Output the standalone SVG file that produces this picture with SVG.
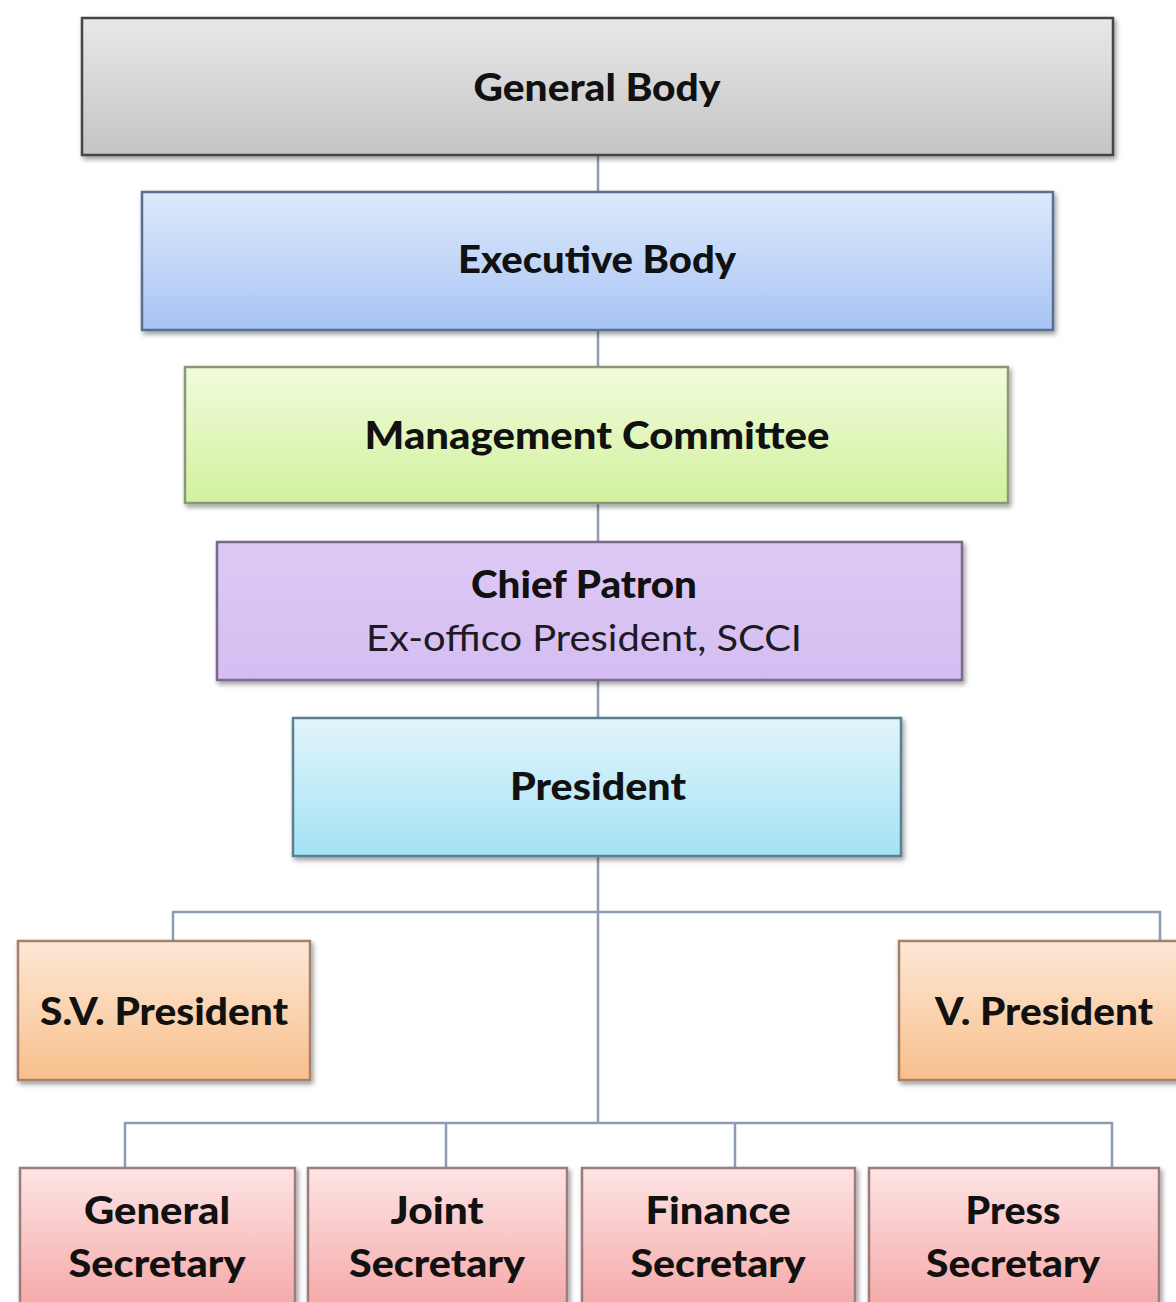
<svg xmlns="http://www.w3.org/2000/svg" width="1176" height="1302" viewBox="0 0 1176 1302">
<style>
.t{font-family:Lato,"Liberation Sans",sans-serif;font-weight:900;font-size:38px;fill:#111;text-anchor:middle}
.r{font-family:Lato,"Liberation Sans",sans-serif;font-weight:normal;font-size:36px;fill:#1e1a24;text-anchor:middle}
.c{fill:none;stroke:#8d9bb5;stroke-width:2.5}
.box{stroke-width:2.5;filter:url(#sh)}
</style>
<defs>
<filter id="sh" x="-5%" y="-10%" width="110%" height="125%">
<feDropShadow dx="2" dy="3" stdDeviation="2.5" flood-color="#000" flood-opacity="0.4"/>
</filter>
<linearGradient id="gGray" x1="0" y1="0" x2="0" y2="1"><stop offset="0" stop-color="#e8e8e8"/><stop offset="1" stop-color="#c4c4c4"/></linearGradient>
<linearGradient id="gBlue" x1="0" y1="0" x2="0" y2="1"><stop offset="0" stop-color="#dde9fb"/><stop offset="1" stop-color="#a8c4f4"/></linearGradient>
<linearGradient id="gGreen" x1="0" y1="0" x2="0" y2="1"><stop offset="0" stop-color="#f1fbdc"/><stop offset="1" stop-color="#d2f19d"/></linearGradient>
<linearGradient id="gPurple" x1="0" y1="0" x2="0" y2="1"><stop offset="0" stop-color="#ddc9f5"/><stop offset="1" stop-color="#d5bdf1"/></linearGradient>
<linearGradient id="gCyan" x1="0" y1="0" x2="0" y2="1"><stop offset="0" stop-color="#e2f5fc"/><stop offset="1" stop-color="#a3e2f4"/></linearGradient>
<linearGradient id="gOrange" x1="0" y1="0" x2="0" y2="1"><stop offset="0" stop-color="#fde8d6"/><stop offset="1" stop-color="#f8bf8c"/></linearGradient>
<linearGradient id="gPink" x1="0" y1="0" x2="0" y2="1"><stop offset="0" stop-color="#fde4e4"/><stop offset="1" stop-color="#f5a4a4"/></linearGradient>
</defs>
<rect width="1176" height="1302" fill="#fff"/>
<g id="connectors">
<line class="c" x1="598" y1="155" x2="598" y2="1123"/>
<polyline class="c" points="173,941 173,912 1160,912 1160,941"/>
<polyline class="c" points="125,1168 125,1123 1112,1123 1112,1168"/>
<line class="c" x1="446" y1="1123" x2="446" y2="1168"/>
<line class="c" x1="735" y1="1123" x2="735" y2="1168"/>
</g>
<g id="general-body">
<rect class="box" x="82" y="18" width="1031" height="137" fill="url(#gGray)" stroke="#444"/>
<text class="t" x="597" y="101" textLength="247" lengthAdjust="spacingAndGlyphs">General Body</text>
</g>
<g id="executive-body">
<rect class="box" x="142" y="192" width="911" height="138" fill="url(#gBlue)" stroke="#5a6e92"/>
<text class="t" x="597" y="273" textLength="278" lengthAdjust="spacingAndGlyphs">Executive Body</text>
</g>
<g id="management-committee">
<rect class="box" x="185" y="367" width="823" height="136" fill="url(#gGreen)" stroke="#8a9878"/>
<text class="t" x="597" y="449" textLength="465" lengthAdjust="spacingAndGlyphs">Management Committee</text>
</g>
<g id="chief-patron">
<rect class="box" x="217" y="542" width="745" height="138" fill="url(#gPurple)" stroke="#7a698b"/>
<text class="t" x="584" y="598" textLength="226" lengthAdjust="spacingAndGlyphs">Chief Patron</text>
<text class="r" x="584" y="651" textLength="436" lengthAdjust="spacingAndGlyphs">Ex-offico President, SCCI</text>
</g>
<g id="president">
<rect class="box" x="293" y="718" width="608" height="138" fill="url(#gCyan)" stroke="#5a7f8f"/>
<text class="t" x="598" y="800" textLength="176" lengthAdjust="spacingAndGlyphs">President</text>
</g>
<g id="sv-president">
<rect class="box" x="18" y="941" width="292" height="139" fill="url(#gOrange)" stroke="#a5806a"/>
<text class="t" x="164" y="1025" textLength="248" lengthAdjust="spacingAndGlyphs">S.V. President</text>
</g>
<g id="v-president">
<rect class="box" x="899" y="941" width="290" height="139" fill="url(#gOrange)" stroke="#a5806a"/>
<text class="t" x="1044" y="1025" textLength="218" lengthAdjust="spacingAndGlyphs">V. President</text>
</g>
<g id="general-secretary">
<rect class="box" x="20" y="1168" width="275" height="150" fill="url(#gPink)" stroke="#9e7b7b"/>
<text class="t" x="157" y="1224" textLength="146" lengthAdjust="spacingAndGlyphs">General</text>
<text class="t" x="157" y="1277" textLength="177" lengthAdjust="spacingAndGlyphs">Secretary</text>
</g>
<g id="joint-secretary">
<rect class="box" x="308" y="1168" width="259" height="150" fill="url(#gPink)" stroke="#9e7b7b"/>
<text class="t" x="437" y="1224" textLength="93" lengthAdjust="spacingAndGlyphs">Joint</text>
<text class="t" x="437" y="1277" textLength="176" lengthAdjust="spacingAndGlyphs">Secretary</text>
</g>
<g id="finance-secretary">
<rect class="box" x="582" y="1168" width="273" height="150" fill="url(#gPink)" stroke="#9e7b7b"/>
<text class="t" x="718" y="1224" textLength="145" lengthAdjust="spacingAndGlyphs">Finance</text>
<text class="t" x="718" y="1277" textLength="175" lengthAdjust="spacingAndGlyphs">Secretary</text>
</g>
<g id="press-secretary">
<rect class="box" x="869" y="1168" width="290" height="150" fill="url(#gPink)" stroke="#9e7b7b"/>
<text class="t" x="1013" y="1224" textLength="95" lengthAdjust="spacingAndGlyphs">Press</text>
<text class="t" x="1013" y="1277" textLength="174" lengthAdjust="spacingAndGlyphs">Secretary</text>
</g>
</svg>
